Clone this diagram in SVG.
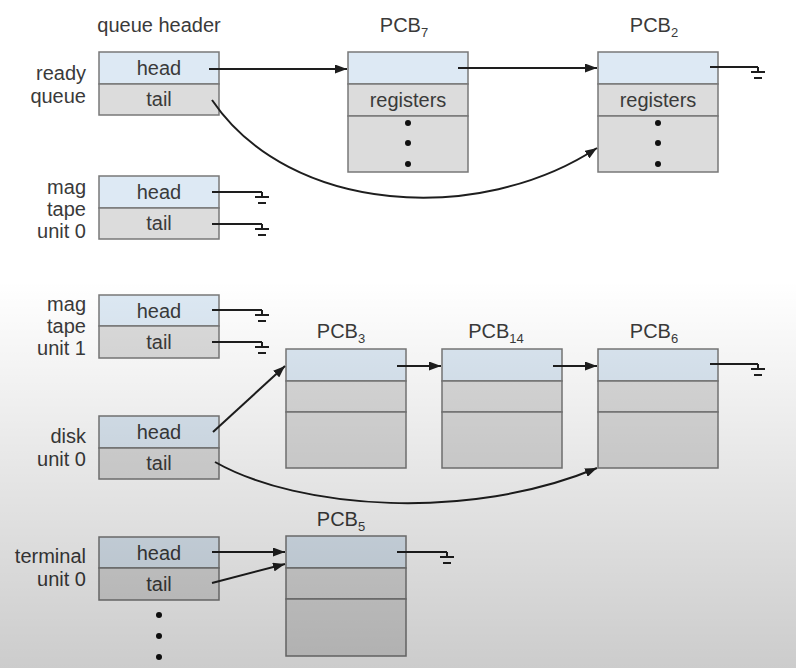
<svg xmlns="http://www.w3.org/2000/svg" width="796" height="668" viewBox="0 0 796 668">
<defs>
<style>
.t{font-family:"Liberation Sans",Arial,sans-serif;font-size:20px;fill:#3a3a3a}
.c{text-anchor:middle}
.r{text-anchor:end}
.sub{font-size:13px}
.hd{fill:#dde9f4;stroke:#787878;stroke-width:1.5}
.gy{fill:#dcdcdc;stroke:#787878;stroke-width:1.5}
.ln{fill:none;stroke:#1e1e1e;stroke-width:2}
.gnd{fill:none;stroke:#1e1e1e;stroke-width:2}
.dot{fill:#111}
</style>
<marker id="ah" viewBox="0 0 12 9" refX="12" refY="4.5" markerWidth="12" markerHeight="9" markerUnits="userSpaceOnUse" orient="auto">
<path d="M0,0 L12,4.5 L0,9 z" fill="#1e1e1e"/>
</marker>
<g id="ground">
<path class="gnd" d="M0,0 V5 M-7,5 H7"/>
<path class="gnd" d="M-4,11 H4" stroke-width="2.5"/>
</g>
<linearGradient id="shade" x1="0" y1="0" x2="0" y2="1">
<stop offset="0" stop-color="#000" stop-opacity="0"/>
<stop offset="1" stop-color="#000" stop-opacity="0.2"/>
</linearGradient>
</defs>
<rect x="0" y="0" width="796" height="668" fill="#ffffff"/>

<text class="t c" x="159" y="32">queue header</text>

<g id="ready-queue">
<rect class="hd" x="99" y="52" width="120" height="32"/>
<rect class="gy" x="99" y="84" width="120" height="31"/>
<text class="t c" x="159" y="75">head</text>
<text class="t c" x="159" y="106">tail</text>
<text class="t r" x="86" y="80">ready</text>
<text class="t r" x="86" y="103">queue</text>
</g>

<g id="pcb7">
<text class="t c" x="404" y="32">PCB<tspan class="sub" dy="5">7</tspan></text>
<rect class="hd" x="348" y="52" width="120" height="32"/>
<rect class="gy" x="348" y="84" width="120" height="32"/>
<rect class="gy" x="348" y="116" width="120" height="56"/>
<text class="t c" x="408" y="107">registers</text>
<circle class="dot" cx="408" cy="123" r="3"/>
<circle class="dot" cx="408" cy="143" r="3"/>
<circle class="dot" cx="408" cy="164" r="3"/>
</g>

<g id="pcb2">
<text class="t c" x="654" y="32">PCB<tspan class="sub" dy="5">2</tspan></text>
<rect class="hd" x="598" y="52" width="120" height="32"/>
<rect class="gy" x="598" y="84" width="120" height="32"/>
<rect class="gy" x="598" y="116" width="120" height="56"/>
<text class="t c" x="658" y="107">registers</text>
<circle class="dot" cx="658" cy="123" r="3"/>
<circle class="dot" cx="658" cy="143" r="3"/>
<circle class="dot" cx="658" cy="164" r="3"/>
</g>

<g id="mag-tape-0">
<rect class="hd" x="99" y="176" width="120" height="32"/>
<rect class="gy" x="99" y="208" width="120" height="31"/>
<text class="t c" x="159" y="199">head</text>
<text class="t c" x="159" y="230">tail</text>
<text class="t r" x="86" y="194">mag</text>
<text class="t r" x="86" y="216">tape</text>
<text class="t r" x="86" y="238">unit 0</text>
</g>

<g id="mag-tape-1">
<rect class="hd" x="99" y="295" width="120" height="31"/>
<rect class="gy" x="99" y="326" width="120" height="32"/>
<text class="t c" x="159" y="318">head</text>
<text class="t c" x="159" y="349">tail</text>
<text class="t r" x="86" y="311">mag</text>
<text class="t r" x="86" y="333">tape</text>
<text class="t r" x="86" y="355">unit 1</text>
</g>

<g id="disk-unit-0">
<rect class="hd" x="99" y="416" width="120" height="32"/>
<rect class="gy" x="99" y="448" width="120" height="31"/>
<text class="t c" x="159" y="439">head</text>
<text class="t c" x="159" y="470">tail</text>
<text class="t r" x="86" y="443">disk</text>
<text class="t r" x="86" y="466">unit 0</text>
</g>

<g id="terminal-unit-0">
<rect class="hd" x="99" y="537" width="120" height="31"/>
<rect class="gy" x="99" y="568" width="120" height="32"/>
<text class="t c" x="159" y="560">head</text>
<text class="t c" x="159" y="591">tail</text>
<text class="t r" x="86" y="563">terminal</text>
<text class="t r" x="86" y="586">unit 0</text>
<circle class="dot" cx="159" cy="615" r="3"/>
<circle class="dot" cx="159" cy="636" r="3"/>
<circle class="dot" cx="159" cy="657" r="3"/>
</g>

<g id="pcb3">
<text class="t c" x="341" y="338">PCB<tspan class="sub" dy="5">3</tspan></text>
<rect class="hd" x="286" y="349" width="120" height="32"/>
<rect class="gy" x="286" y="381" width="120" height="31"/>
<rect class="gy" x="286" y="412" width="120" height="56"/>
</g>

<g id="pcb14">
<text class="t c" x="496" y="338">PCB<tspan class="sub" dy="5">14</tspan></text>
<rect class="hd" x="442" y="349" width="120" height="32"/>
<rect class="gy" x="442" y="381" width="120" height="31"/>
<rect class="gy" x="442" y="412" width="120" height="56"/>
</g>

<g id="pcb6">
<text class="t c" x="654" y="338">PCB<tspan class="sub" dy="5">6</tspan></text>
<rect class="hd" x="598" y="349" width="120" height="32"/>
<rect class="gy" x="598" y="381" width="120" height="31"/>
<rect class="gy" x="598" y="412" width="120" height="56"/>
</g>

<g id="pcb5">
<text class="t c" x="341" y="526">PCB<tspan class="sub" dy="5">5</tspan></text>
<rect class="hd" x="286" y="536" width="120" height="32"/>
<rect class="gy" x="286" y="568" width="120" height="31"/>
<rect class="gy" x="286" y="599" width="120" height="57"/>
</g>

<g id="connectors">
<path class="ln" d="M209,69 H347" marker-end="url(#ah)"/>
<path class="ln" d="M458,68 H597" marker-end="url(#ah)"/>
<path class="ln" d="M212,100 C290,215 480,225 597,148" marker-end="url(#ah)"/>
<path class="ln" d="M710,67 H758"/>
<use href="#ground" x="758" y="67"/>
<path class="ln" d="M212,192 H262"/>
<use href="#ground" x="262" y="192"/>
<path class="ln" d="M212,224 H262"/>
<use href="#ground" x="262" y="224"/>
<path class="ln" d="M212,310 H262"/>
<use href="#ground" x="262" y="310"/>
<path class="ln" d="M212,342 H262"/>
<use href="#ground" x="262" y="342"/>
<path class="ln" d="M213,432 L285,366" marker-end="url(#ah)"/>
<path class="ln" d="M215,462 C300,510 470,521 597,468" marker-end="url(#ah)"/>
<path class="ln" d="M397,366 H441" marker-end="url(#ah)"/>
<path class="ln" d="M553,366 H597" marker-end="url(#ah)"/>
<path class="ln" d="M710,364 H758"/>
<use href="#ground" x="758" y="364"/>
<path class="ln" d="M212,552 H285" marker-end="url(#ah)"/>
<path class="ln" d="M212,583 L285,564" marker-end="url(#ah)"/>
<path class="ln" d="M397,552 H447"/>
<use href="#ground" x="447" y="552"/>
</g>

<rect x="0" y="280" width="796" height="388" fill="url(#shade)" pointer-events="none"/>
</svg>
